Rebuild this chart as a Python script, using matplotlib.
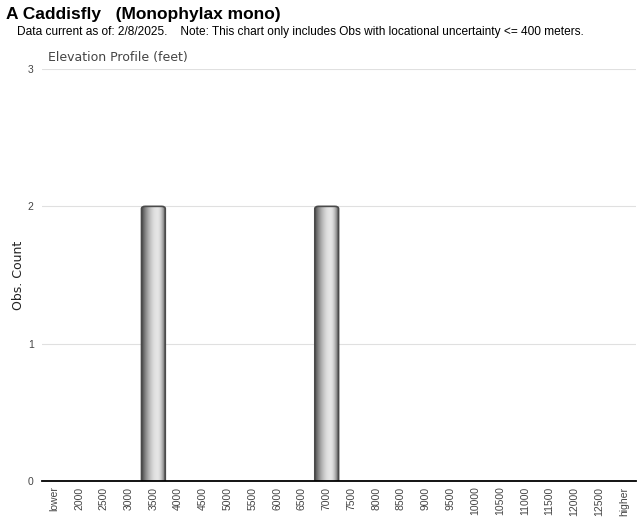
import numpy as np
import matplotlib
matplotlib.use('Agg')
from matplotlib import pyplot as plt
from matplotlib.patches import FancyBboxPatch

plt.rcParams['font.family'] = ['Liberation Sans', 'DejaVu Sans']

categories = ['lower'] + [str(v) for v in range(2000, 13000, 500)] + ['higher']
counts = [0, 0, 0, 0, 2, 0, 0, 0, 0, 0, 0, 2, 0, 0, 0, 0, 0, 0, 0, 0, 0, 0, 0, 0]

fig = plt.figure(figsize=(6.4, 5.23), dpi=100)
ax = fig.add_axes([0.0656, 0.0803, 0.9284, 0.7877])

x = np.arange(len(categories))
bars = ax.bar(x, counts, width=0.96, color='none', edgecolor='none')

# cylinder-like grey gradient, highlight a bit right of centre
g = np.linspace(0, 1, 64)
peak = 0.65
t = np.where(g < peak, g / peak, (1 - g) / (1 - peak))
shade = 0.3 + 0.6 * np.sin(t * np.pi / 2) ** 0.9
grad = np.tile(shade, (2, 1))
for b, c in zip(bars, counts):
    if c <= 0:
        continue
    x0, w = b.get_x(), b.get_width()
    patch = FancyBboxPatch((x0, -0.2), w, c + 0.2, boxstyle='round,pad=0,rounding_size=0.15',
                           mutation_aspect=0.12, facecolor='none', edgecolor='#4a4a4a', lw=1.2, zorder=3)
    ax.add_patch(patch)
    im = ax.imshow(grad, cmap='gray', vmin=0, vmax=1, aspect='auto',
                   extent=(x0, x0 + w, 0, c), zorder=2, interpolation='bicubic')
    im.set_clip_path(patch)

ax.set_xlim(-0.5, len(categories) - 0.5)
ax.set_ylim(0, 3)
ax.set_yticks([0, 1, 2, 3])
ax.set_xticks(x)
ax.set_xticklabels(categories, rotation=90, fontsize=7.5, color='#444444')
ax.tick_params(axis='y', length=0, labelsize=7.5, labelcolor='#444444', pad=6)
ax.tick_params(axis='x', length=0, pad=4)
ax.grid(axis='y', color='#e0e0e0', lw=0.8)
ax.set_axisbelow(True)
for s in ['top', 'right', 'left']:
    ax.spines[s].set_visible(False)
ax.spines['bottom'].set_color('black')
ax.spines['bottom'].set_linewidth(1.3)
ax.spines['bottom'].set_zorder(4)

ax.set_ylabel('Obs. Count', fontsize=9, family='DejaVu Sans', color='#222222', labelpad=2)
fig.text(48 / 640, 1 - 57 / 523, 'Elevation Profile (feet)', fontsize=9, family='DejaVu Sans',
         color='#444444', va='center')
fig.text(6 / 640, 1 - 15 / 523, 'A Caddisfly   (Monophylax mono)', fontsize=12.5,
         fontweight='bold', va='center')
fig.text(17 / 640, 1 - 32 / 523,
         'Data current as of: 2/8/2025.    Note: This chart only includes Obs with locational uncertainty <= 400 meters.',
         fontsize=8.6, va='center')

plt.savefig('out.png', dpi=100)
